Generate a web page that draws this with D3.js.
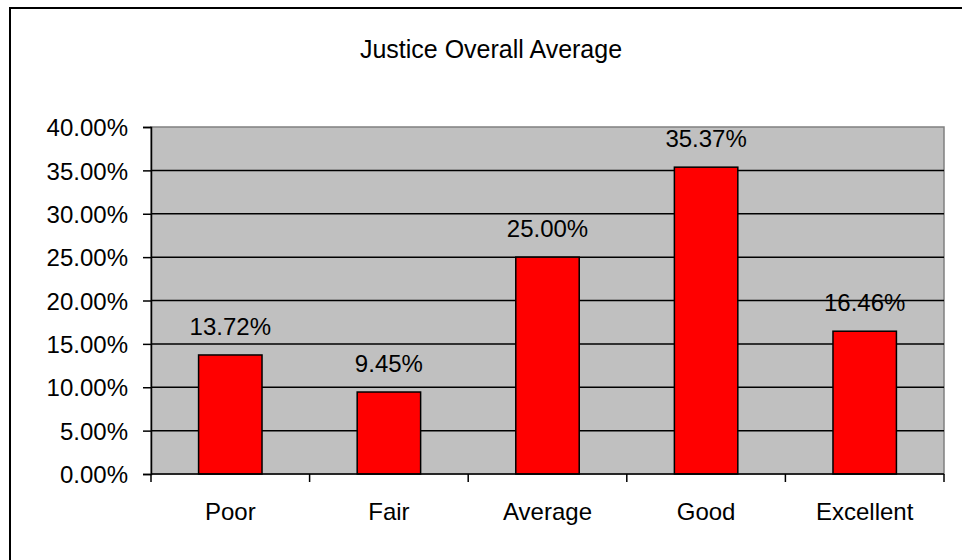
<!DOCTYPE html>
<html>
<head>
<meta charset="utf-8">
<script src="https://cdn.jsdelivr.net/npm/d3@7/dist/d3.min.js"></script>
<style>
  html, body { margin: 0; padding: 0; background: #fff; }
  svg { display: block; font-family: "Liberation Sans", Arial, sans-serif; }
</style>
</head>
<body>
<svg id="chart" width="962" height="560"></svg>
<script>
// ── Data ─────────────────────────────────────────────────────────────
const categories = ['Poor', 'Fair', 'Average', 'Good', 'Excellent'];
const values     = [13.72, 9.45, 25.00, 35.37, 16.46];
const yTicks     = [0, 5, 10, 15, 20, 25, 30, 35, 40];
const title      = 'Justice Overall Average';

const svg = d3.select('#chart');
const W = 962, H = 560;
const plot = { left: 151, right: 944, top: 127, bottom: 474 };

// Outer chart frame (cut off at right/bottom like the source)
svg.append('rect')
  .attr('x', 10).attr('y', 8).attr('width', W + 20).attr('height', H + 20)
  .attr('fill', '#fff').attr('stroke', '#000').attr('stroke-width', 2);

const x = d3.scaleBand().domain(categories).range([plot.left, plot.right]).padding(0);
const y = d3.scaleLinear().domain([0, 40]).range([plot.bottom, plot.top]);

// Plot area
svg.append('rect')
  .attr('x', plot.left).attr('y', plot.top)
  .attr('width', plot.right - plot.left).attr('height', plot.bottom - plot.top)
  .attr('fill', '#c0c0c0').attr('stroke', '#808080').attr('stroke-width', 1.5);

// Gridlines
svg.append('g').selectAll('line').data(yTicks.filter(t => t > 0 && t < 40)).join('line')
  .attr('x1', plot.left).attr('x2', plot.right)
  .attr('y1', d => y(d)).attr('y2', d => y(d))
  .attr('stroke', '#000').attr('stroke-width', 1.5);

// Bars — Excel style gap width (bar = 40% of category)
const barW = x.bandwidth() * 0.4;
svg.append('g').selectAll('rect').data(values).join('rect')
  .attr('x', (d, i) => x(categories[i]) + (x.bandwidth() - barW) / 2)
  .attr('y', d => y(d))
  .attr('width', barW)
  .attr('height', d => y(0) - y(d))
  .attr('fill', '#ff0000').attr('stroke', '#000').attr('stroke-width', 1.5);

// Data labels
svg.append('g').selectAll('text').data(values).join('text')
  .attr('x', (d, i) => x(categories[i]) + x.bandwidth() / 2)
  .attr('y', d => y(d) - 20)
  .attr('text-anchor', 'middle')
  .attr('font-size', 24).attr('fill', '#000')
  .text(d => d.toFixed(2) + '%');

// Y axis
const yAxis = svg.append('g').attr('transform', `translate(${plot.left},0)`)
  .call(d3.axisLeft(y).tickValues(yTicks).tickSize(8).tickPadding(15)
    .tickFormat(d => d.toFixed(2) + '%'));
yAxis.select('.domain').attr('stroke', '#000').attr('stroke-width', 1.5);
yAxis.selectAll('.tick line').attr('stroke', '#000').attr('stroke-width', 1.5);
yAxis.selectAll('.tick text')
  .attr('font-size', 24).attr('font-family', '"Liberation Sans", Arial, sans-serif')
  .attr('fill', '#000').attr('dy', '0.36em');

// X axis: ticks on category boundaries
const xAxisG = svg.append('g').attr('transform', `translate(0,${plot.bottom})`);
xAxisG.append('line')
  .attr('x1', plot.left).attr('x2', plot.right)
  .attr('stroke', '#000').attr('stroke-width', 1.5);
const bounds = categories.map(c => x(c)).concat([plot.right]);
xAxisG.selectAll('line.tk').data(bounds).join('line').attr('class', 'tk')
  .attr('x1', d => d).attr('x2', d => d).attr('y1', 0).attr('y2', 8)
  .attr('stroke', '#000').attr('stroke-width', 1.5);
xAxisG.selectAll('text').data(categories).join('text')
  .attr('x', d => x(d) + x.bandwidth() / 2)
  .attr('y', 46)
  .attr('text-anchor', 'middle')
  .attr('font-size', 24).attr('fill', '#000')
  .text(d => d);

// Title
svg.append('text')
  .attr('x', 491).attr('y', 58)
  .attr('text-anchor', 'middle')
  .attr('font-size', 25).attr('fill', '#000')
  .text(title);
</script>
</body>
</html>
